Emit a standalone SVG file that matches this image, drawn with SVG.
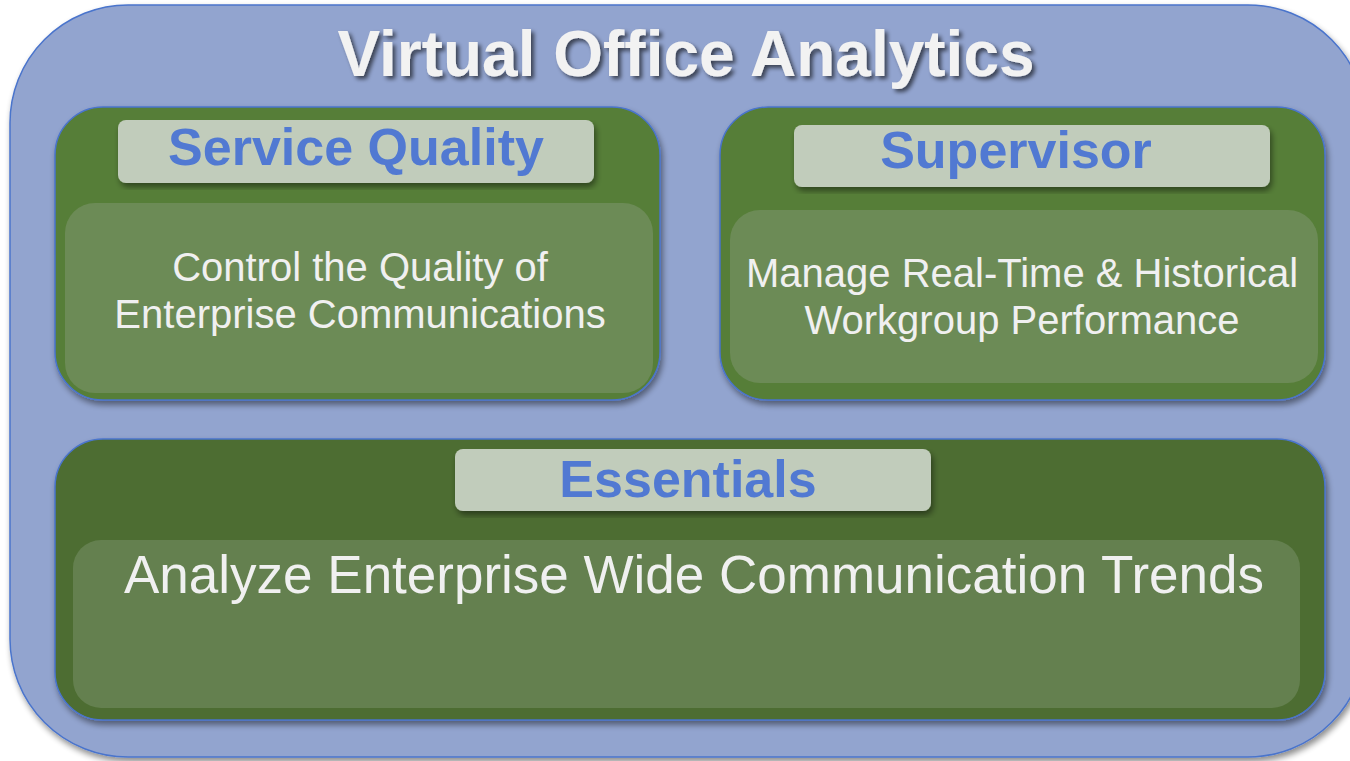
<svg xmlns="http://www.w3.org/2000/svg" width="1350" height="761" viewBox="0 0 1350 761">
  <defs>
    <filter id="boxShadow" x="-5%" y="-5%" width="110%" height="115%">
      <feGaussianBlur in="SourceAlpha" stdDeviation="3"/>
      <feOffset dx="2" dy="4" result="b"/>
      <feComponentTransfer><feFuncA type="linear" slope="0.45"/></feComponentTransfer>
      <feMerge><feMergeNode/><feMergeNode in="SourceGraphic"/></feMerge>
    </filter>
    <filter id="textShadow" x="-5%" y="-20%" width="110%" height="150%">
      <feGaussianBlur in="SourceAlpha" stdDeviation="2"/>
      <feOffset dx="3" dy="3" result="b"/>
      <feComponentTransfer><feFuncA type="linear" slope="0.6"/></feComponentTransfer>
      <feMerge><feMergeNode/><feMergeNode in="SourceGraphic"/></feMerge>
    </filter>
  </defs>
  <style>
    .outer { fill: #92A4CF; stroke: #4A74CC; stroke-width: 1.5; }
    .panel { fill: #567E37; stroke: #4A74CC; stroke-width: 1.5; }
    .panel-dark { fill: #4D6D31; stroke: #4A74CC; stroke-width: 1.5; }
    .inner { fill: #6C8B56; }
    .inner-dark { fill: #64804F; }
    .label { fill: #C1CCBB; }
    .title { font-family: "Liberation Sans", Arial, sans-serif; font-weight: bold; fill: #F2F2F2; text-anchor: middle; }
    .head { font-family: "Liberation Sans", Arial, sans-serif; font-weight: bold; fill: #5179D2; text-anchor: middle; }
    .body { font-family: "Liberation Sans", Arial, sans-serif; fill: #F0F0F0; text-anchor: middle; }
  </style>

  <!-- outer container -->
  <g id="virtual-office-analytics">
    <rect class="outer" x="10" y="5" width="1356" height="752" rx="118" ry="118" filter="url(#boxShadow)"/>
    <text class="title" x="686" y="76" font-size="64" filter="url(#textShadow)">Virtual Office Analytics</text>
  </g>

  <!-- Service Quality -->
  <g id="service-quality">
    <rect class="panel" x="55" y="107" width="605" height="293" rx="48" ry="48" filter="url(#boxShadow)"/>
    <rect class="label" x="118" y="120" width="476" height="63" rx="8" ry="8" filter="url(#boxShadow)"/>
    <text class="head" x="356" y="165" font-size="52">Service Quality</text>
    <rect class="inner" x="65" y="203" width="588" height="190" rx="30" ry="30"/>
    <text class="body" x="360" y="281" font-size="40">Control the Quality of</text>
    <text class="body" x="360" y="328" font-size="40">Enterprise Communications</text>
  </g>

  <!-- Supervisor -->
  <g id="supervisor">
    <rect class="panel" x="720" y="107" width="605" height="293" rx="48" ry="48" filter="url(#boxShadow)"/>
    <rect class="label" x="794" y="125" width="476" height="62" rx="8" ry="8" filter="url(#boxShadow)"/>
    <text class="head" x="1016" y="168" font-size="52">Supervisor</text>
    <rect class="inner" x="730" y="210" width="588" height="173" rx="30" ry="30"/>
    <text class="body" x="1022" y="287" font-size="40">Manage Real-Time &amp; Historical</text>
    <text class="body" x="1022" y="334" font-size="40">Workgroup Performance</text>
  </g>

  <!-- Essentials -->
  <g id="essentials">
    <rect class="panel-dark" x="55" y="439" width="1270" height="281" rx="48" ry="48" filter="url(#boxShadow)"/>
    <rect class="label" x="455" y="449" width="476" height="62" rx="8" ry="8" filter="url(#boxShadow)"/>
    <text class="head" x="688" y="497" font-size="52">Essentials</text>
    <rect class="inner-dark" x="73" y="540" width="1227" height="168" rx="28" ry="28"/>
    <text class="body" x="694" y="593" font-size="53">Analyze Enterprise Wide Communication Trends</text>
  </g>

  <!-- no connectors in this diagram -->
  <g id="connectors"/>
</svg>
